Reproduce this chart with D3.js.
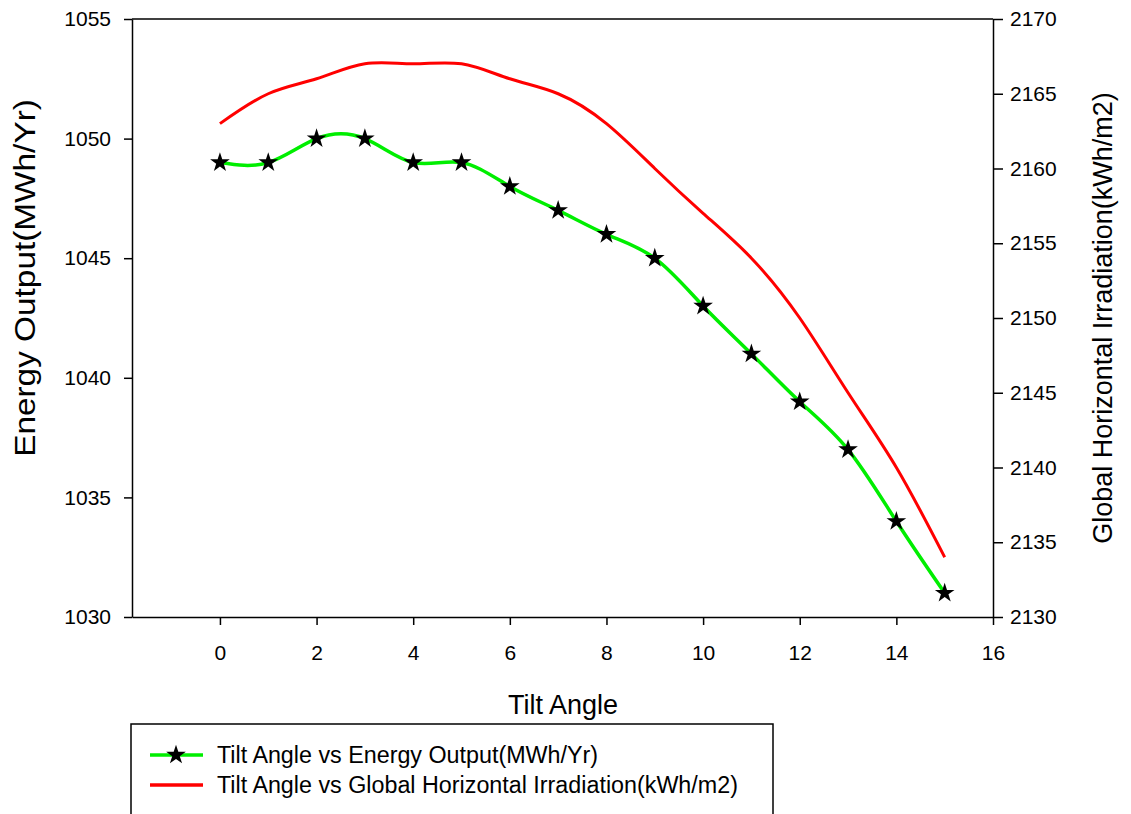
<!DOCTYPE html>
<html>
<head>
<meta charset="utf-8">
<script src="https://cdn.jsdelivr.net/npm/d3@7"></script>
<style>
  html, body { margin: 0; padding: 0; background: #fff; }
  svg { display: block; font-family: "Liberation Sans", Arial, sans-serif; }
</style>
</head>
<body>
<svg id="chart" width="1131" height="814"></svg>
<script>
// Tilt angles (degrees)
const tiltAngles = [0, 1, 2, 3, 4, 5, 6, 7, 8, 9, 10, 11, 12, 13, 14, 15];
// Energy output, MWh/Yr (left axis)
const energyOutput = [1049, 1049, 1050, 1050, 1049, 1049, 1048, 1047, 1046, 1045, 1043, 1041, 1039, 1037, 1034, 1031];
// Global horizontal irradiation, kWh/m2 (right axis)
const irradiation = [2163, 2165, 2166, 2167, 2167, 2167, 2166, 2165, 2163, 2160, 2157, 2154, 2150, 2145, 2140, 2134];

const xTicks = [0, 2, 4, 6, 8, 10, 12, 14, 16];
const leftTicks = [1030, 1035, 1040, 1045, 1050, 1055];
const rightTicks = [2130, 2135, 2140, 2145, 2150, 2155, 2160, 2165, 2170];

const FONT = '"Liberation Sans", Arial, sans-serif';
const svg = d3.select("#chart");
const plot = { left: 132, right: 993, top: 19, bottom: 617 };

const x = d3.scaleLinear().domain([-1.82, 16]).range([plot.left, plot.right]);
const yL = d3.scaleLinear().domain([1030, 1055]).range([plot.bottom, plot.top]);
const yR = d3.scaleLinear().domain([2130, 2170]).range([plot.bottom, plot.top]);

// top frame line
svg.append("line")
  .attr("x1", plot.left).attr("x2", plot.right)
  .attr("y1", plot.top).attr("y2", plot.top)
  .attr("stroke", "#000").attr("stroke-width", 1.5);

function styleAxis(g) {
  g.attr("font-family", FONT);
  g.select(".domain").attr("stroke", "#000").attr("stroke-width", 1.5);
  g.selectAll(".tick line").attr("stroke", "#000").attr("stroke-width", 1.5);
  g.selectAll(".tick text").attr("fill", "#000").style("font-size", "21px");
}

const fmt = d3.format("d");

svg.append("g")
  .attr("transform", `translate(0,${plot.bottom})`)
  .call(d3.axisBottom(x).tickValues(xTicks).tickFormat(fmt).tickSize(8).tickSizeOuter(0).tickPadding(20))
  .call(styleAxis);

svg.append("g")
  .attr("transform", `translate(${plot.left},0)`)
  .call(d3.axisLeft(yL).tickValues(leftTicks).tickFormat(fmt).tickSize(8).tickSizeOuter(0).tickPadding(13))
  .call(styleAxis);

svg.append("g")
  .attr("transform", `translate(${plot.right},0)`)
  .call(d3.axisRight(yR).tickValues(rightTicks).tickFormat(fmt).tickSize(10).tickSizeOuter(0).tickPadding(7))
  .call(styleAxis);

// axis titles
svg.append("text")
  .attr("x", 563).attr("y", 714)
  .attr("text-anchor", "middle")
  .style("font-size", "27px")
  .text("Tilt Angle");

svg.append("text")
  .attr("transform", "translate(35,278) rotate(-90) scale(1.15,1)")
  .attr("text-anchor", "middle")
  .style("font-size", "29px")
  .text("Energy Output(MWh/Yr)");

svg.append("text")
  .attr("transform", "translate(1112,318) rotate(-90)")
  .attr("text-anchor", "middle")
  .style("font-size", "27px")
  .text("Global Horizontal Irradiation(kWh/m2)");

// series lines
const redLine = d3.line()
  .x((d, i) => x(tiltAngles[i]))
  .y(d => yR(d))
  .curve(d3.curveNatural);

const greenLine = d3.line()
  .x((d, i) => x(tiltAngles[i]))
  .y(d => yL(d))
  .curve(d3.curveNatural);

svg.append("path")
  .datum(irradiation)
  .attr("d", redLine)
  .attr("fill", "none")
  .attr("stroke", "#ff0000")
  .attr("stroke-width", 3);

svg.append("path")
  .datum(energyOutput)
  .attr("d", greenLine)
  .attr("fill", "none")
  .attr("stroke", "#00ee00")
  .attr("stroke-width", 3.5);

const star = d3.symbol().type(d3.symbolStar).size(120);

svg.append("g")
  .selectAll("path")
  .data(energyOutput)
  .join("path")
  .attr("transform", (d, i) => `translate(${x(tiltAngles[i])},${yL(d)})`)
  .attr("d", star)
  .attr("fill", "#000");

// legend
const legend = svg.append("g");
legend.append("rect")
  .attr("x", 131).attr("y", 724)
  .attr("width", 642).attr("height", 110)
  .attr("fill", "#fff")
  .attr("stroke", "#000")
  .attr("stroke-width", 1.5);

const legendItems = [
  { label: "Tilt Angle vs Energy Output(MWh/Yr)", color: "#00ee00", marker: true },
  { label: "Tilt Angle vs Global Horizontal Irradiation(kWh/m2)", color: "#ff0000", marker: false }
];

legendItems.forEach((item, i) => {
  const cy = 755 + i * 30;
  legend.append("line")
    .attr("x1", 150).attr("x2", 203)
    .attr("y1", cy).attr("y2", cy)
    .attr("stroke", item.color)
    .attr("stroke-width", 3.5);
  if (item.marker) {
    legend.append("path")
      .attr("transform", `translate(176,${cy})`)
      .attr("d", star)
      .attr("fill", "#000");
  }
  legend.append("text")
    .attr("x", 217).attr("y", cy + 8)
    .style("font-size", "23.3px")
    .text(item.label);
});
</script>
</body>
</html>
